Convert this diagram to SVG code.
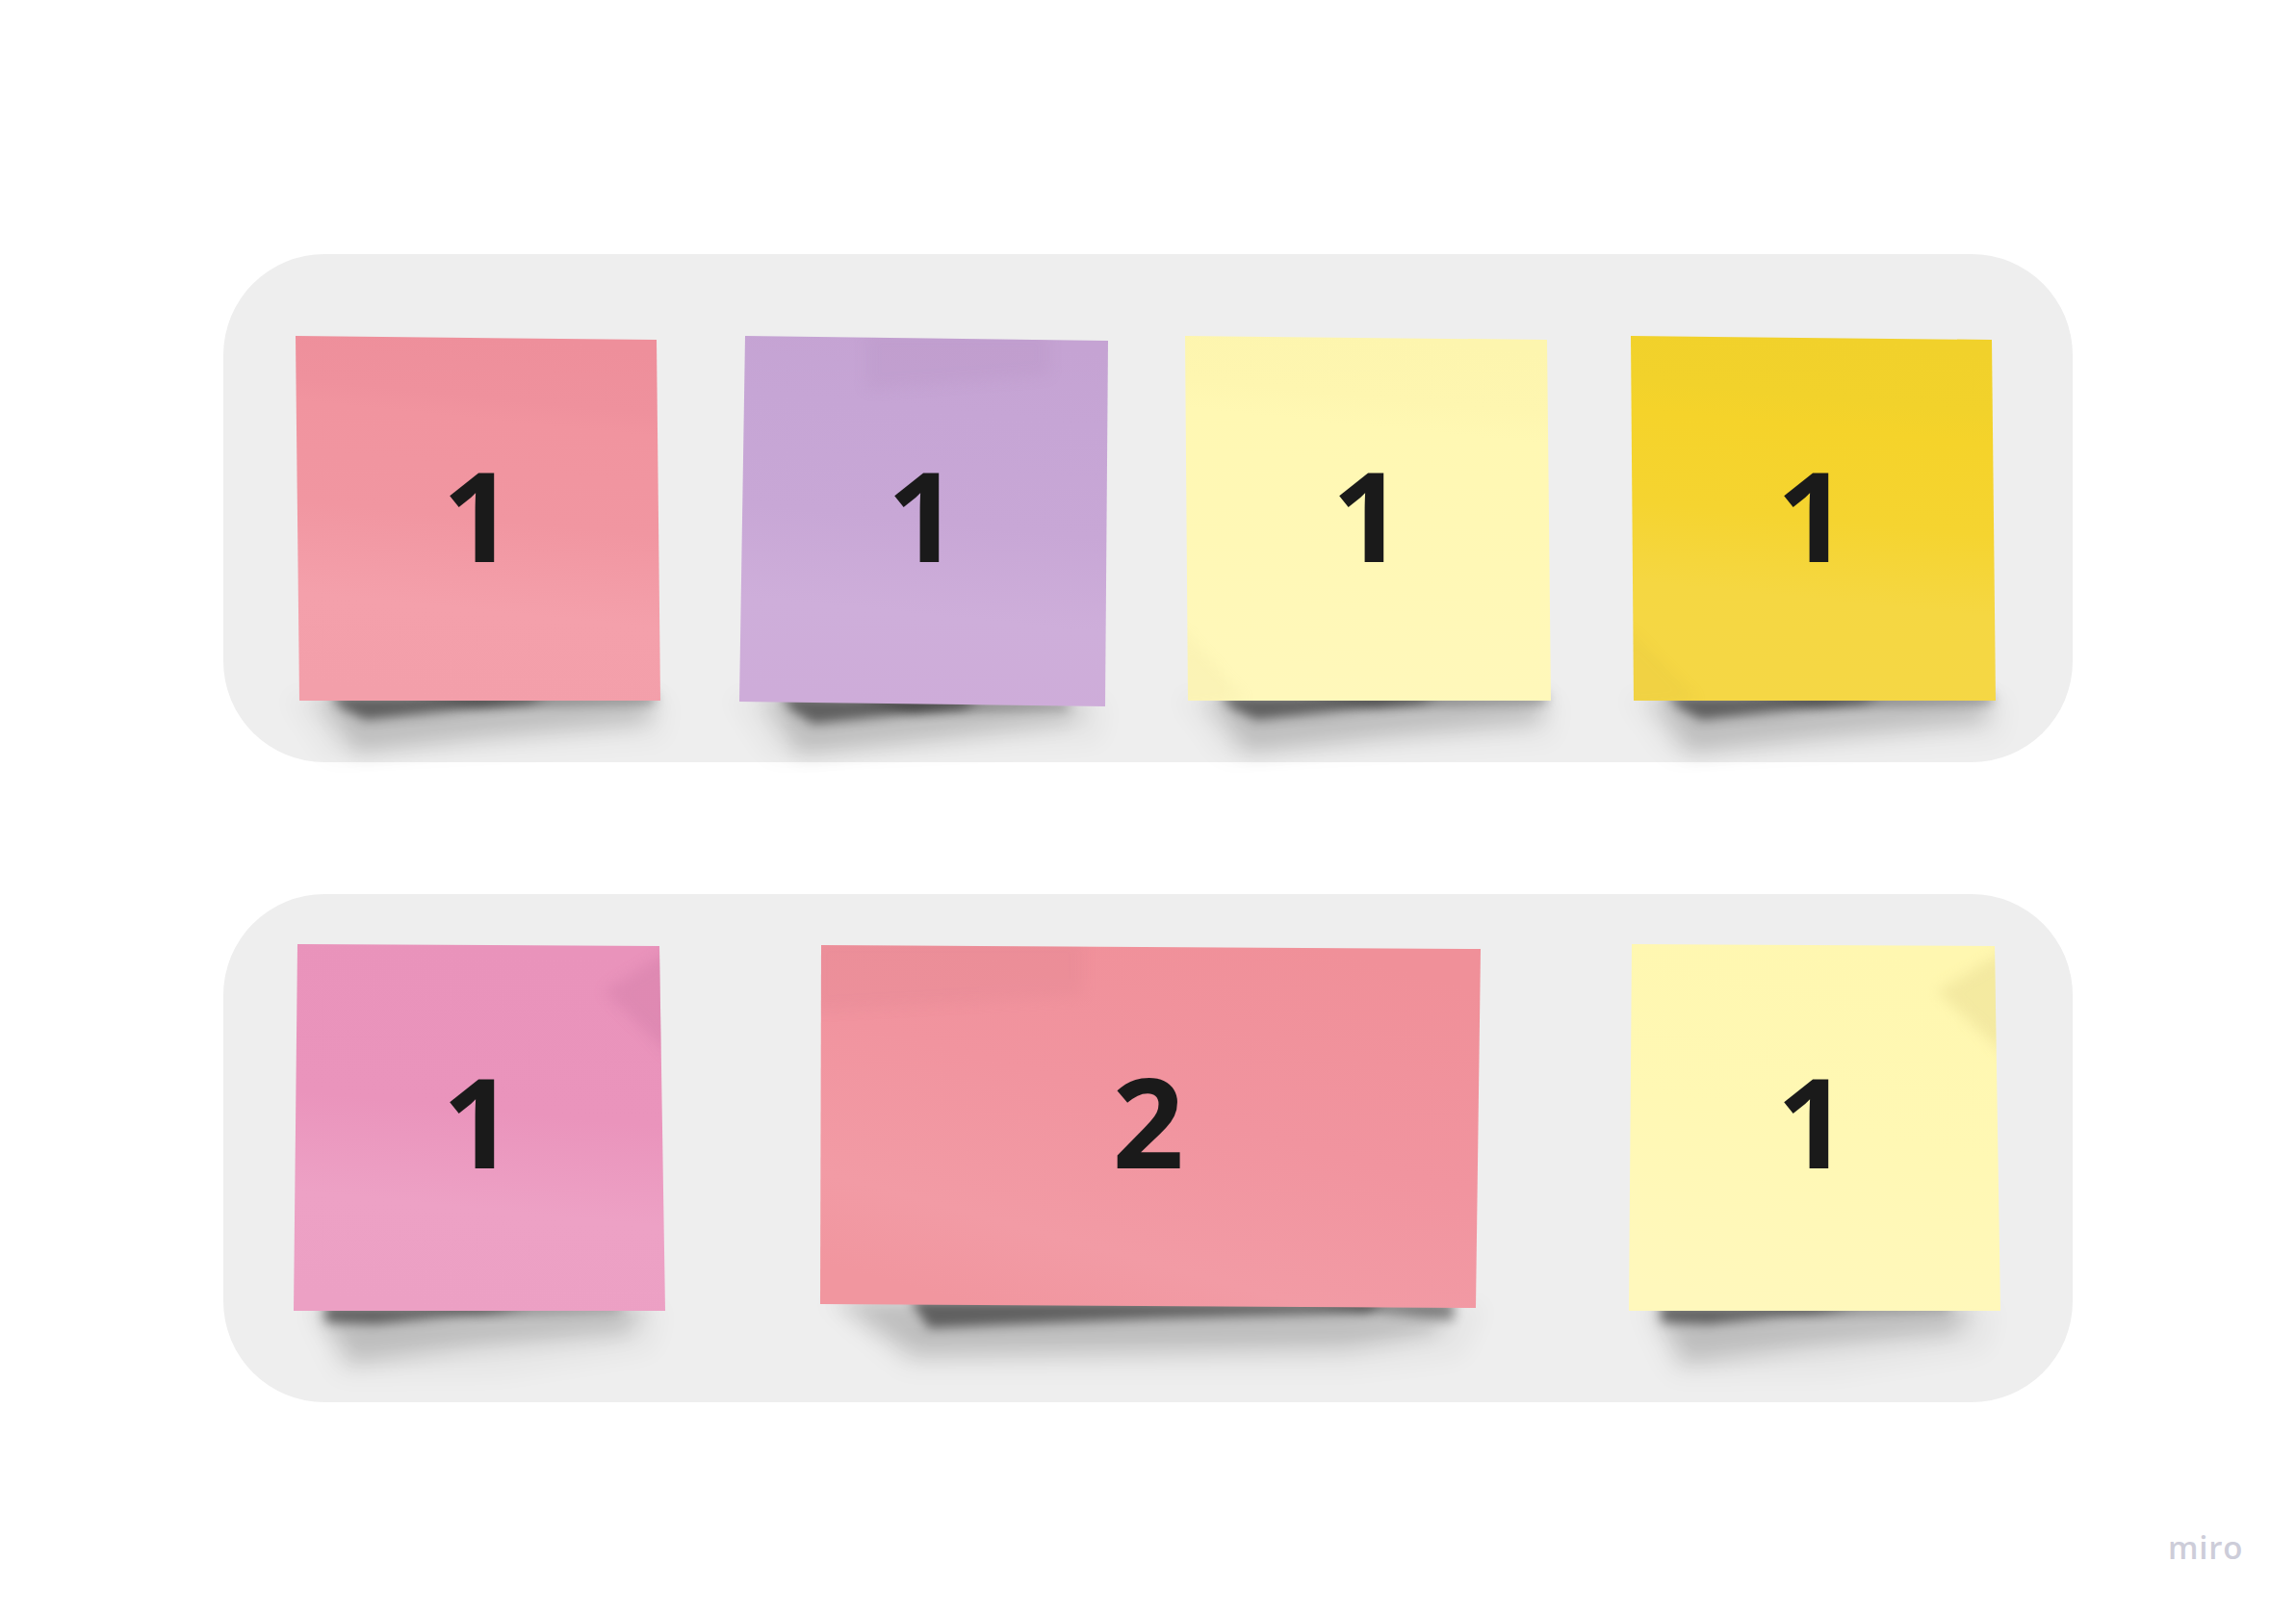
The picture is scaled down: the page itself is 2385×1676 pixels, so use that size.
<svg xmlns="http://www.w3.org/2000/svg" width="2385" height="1676" viewBox="0 0 2385 1676">
<style>
.panel{fill:#eeeeee}
.digit{font-family:"Open Sans","Noto Sans",sans-serif;font-weight:700;font-size:130px;fill:#1a1a1a}
.brand{font-family:"Open Sans","Noto Sans",sans-serif;font-weight:600;font-size:33px;letter-spacing:.8px;fill:#cdcdd9}
.sh-core{fill:#000;opacity:.5;filter:url(#b5)}
.sh-tail{fill:#000;opacity:.38;filter:url(#b5)}
.sh-mid{fill:#000;opacity:.17;filter:url(#b9)}
.sh-soft{fill:#000;opacity:.03;filter:url(#b14)}
.red{fill:url(#gRed)}.purple{fill:url(#gPurple)}.yellow{fill:url(#gYellow)}.gold{fill:url(#gGold)}.pink{fill:url(#gPink)}.wide{fill:url(#gWide)}.pale{fill:url(#gPale)}
</style>
<defs>
<filter id="b5" x="-20%" y="-100%" width="140%" height="300%"><feGaussianBlur stdDeviation="6"/></filter>
<filter id="b9" x="-20%" y="-100%" width="140%" height="300%"><feGaussianBlur stdDeviation="11"/></filter>
<filter id="b14" x="-20%" y="-100%" width="140%" height="300%"><feGaussianBlur stdDeviation="12"/></filter>
<filter id="b3" x="-30%" y="-30%" width="160%" height="160%"><feGaussianBlur stdDeviation="7"/></filter>
<clipPath id="cPink"><polygon points="309,981 685,983 691,1362 305,1362"/></clipPath>
<clipPath id="cPale"><polygon points="1695,981 2072,983 2078,1362 1692,1362"/></clipPath>
<clipPath id="cWide"><polygon points="853,982 1538,986 1533,1359 852,1355"/></clipPath>
<clipPath id="cPurple"><polygon points="774,349 1151,354 1148,734 768,729"/></clipPath>
<clipPath id="cYellow"><polygon points="1231,349 1607,353 1611,728 1234,728"/></clipPath>
<clipPath id="cGold"><polygon points="1694,349 2069,353 2073,728 1697,728"/></clipPath>
<linearGradient id="gRed" x1=".55" y1="0" x2=".45" y2="1"><stop offset="0" stop-color="#ee8f9b"/><stop offset=".17" stop-color="#ef919d"/><stop offset=".23" stop-color="#f1949f"/><stop offset=".5" stop-color="#f196a1"/><stop offset=".75" stop-color="#f4a0ab"/><stop offset="1" stop-color="#f39faa"/></linearGradient>
<linearGradient id="gPurple" x1=".55" y1="0" x2=".45" y2="1"><stop offset="0" stop-color="#c5a3d3"/><stop offset=".2" stop-color="#c6a5d5"/><stop offset=".5" stop-color="#c8a7d6"/><stop offset=".75" stop-color="#ceaeda"/><stop offset="1" stop-color="#ceacd9"/></linearGradient>
<linearGradient id="gYellow" x1=".55" y1="0" x2=".45" y2="1"><stop offset="0" stop-color="#fdf5ae"/><stop offset=".17" stop-color="#fef6b0"/><stop offset=".25" stop-color="#fff8b3"/><stop offset=".6" stop-color="#fff8b6"/><stop offset="1" stop-color="#fff8bb"/></linearGradient>
<linearGradient id="gGold" x1=".55" y1="0" x2=".45" y2="1"><stop offset="0" stop-color="#f1d12b"/><stop offset=".17" stop-color="#f2d22b"/><stop offset=".25" stop-color="#f5d32a"/><stop offset=".5" stop-color="#f5d430"/><stop offset=".72" stop-color="#f5d742"/><stop offset="1" stop-color="#f5d745"/></linearGradient>
<linearGradient id="gPink" x1=".55" y1="0" x2=".45" y2="1"><stop offset="0" stop-color="#e993bb"/><stop offset=".45" stop-color="#ea94bc"/><stop offset=".72" stop-color="#eda1c5"/><stop offset="1" stop-color="#eca0c4"/></linearGradient>
<linearGradient id="gWide" x1=".75" y1="0" x2=".25" y2="1"><stop offset="0" stop-color="#f09099"/><stop offset=".45" stop-color="#f1949f"/><stop offset=".8" stop-color="#f29ba5"/><stop offset="1" stop-color="#f1969f"/></linearGradient>
<linearGradient id="gPale" x1=".6" y1="0" x2=".4" y2="1"><stop offset="0" stop-color="#fff7b0"/><stop offset=".5" stop-color="#fff8b4"/><stop offset="1" stop-color="#fff8bc"/></linearGradient>
</defs>
<rect width="2385" height="1676" fill="#fff"/>
<rect id="panel-top" class="panel" x="232" y="264" width="1921" height="528" rx="105"/>
<rect id="panel-bottom" class="panel" x="232" y="929" width="1921" height="528" rx="105"/>

<g id="note-red">
<polygon class="sh-soft" points="295,722 695,722 690,770 560,778 340,790"/>
<polygon class="sh-mid" points="325,722 682,722 670,750 500,766 370,782"/>
<polygon class="sh-core" points="342,722 570,722 550,730 380,748 355,736"/>
<polygon class="sh-tail" points="420,722 680,722 680,730 500,734"/>
<polygon class="red" points="307,349 682,353 686,728 311,728"/>
<text class="digit" x="459.500" y="584">1</text>
</g>
<g id="note-purple">
<polygon class="sh-soft" points="755,722 1150,725 1145,772 1000,780 800,790"/>
<polygon class="sh-mid" points="790,722 1130,730 1110,750 960,769 830,784"/>
<polygon class="sh-core" points="810,722 1020,726 1000,736 845,752 822,738"/>
<polygon class="sh-tail" points="880,724 1110,730 1110,736 950,740"/>
<polygon class="purple" points="774,349 1151,354 1148,734 768,729"/>
<polygon points="900,345 1090,345 1090,390 900,405" fill="#b48fc0" opacity=".22" filter="url(#b3)" clip-path="url(#cPurple)"/>
<text class="digit" x="921.500" y="584">1</text>
</g>
<g id="note-yellow">
<polygon class="sh-soft" points="1220,722 1620,722 1615,770 1480,778 1270,790"/>
<polygon class="sh-mid" points="1250,722 1608,722 1595,750 1430,766 1295,782"/>
<polygon class="sh-core" points="1266,722 1495,722 1475,730 1305,748 1280,736"/>
<polygon class="sh-tail" points="1345,722 1606,722 1606,730 1430,734"/>
<polygon class="yellow" points="1231,349 1607,353 1611,728 1234,728"/>
<g clip-path="url(#cYellow)"><polygon points="1225,650 1295,728 1225,735" fill="#d8cd8a" opacity=".1" filter="url(#b3)"/></g>
<text class="digit" x="1383.500" y="584">1</text>
</g>
<g id="note-gold">
<polygon class="sh-soft" points="1685,722 2085,722 2080,770 1945,778 1735,790"/>
<polygon class="sh-mid" points="1712,722 2070,722 2058,750 1890,766 1755,782"/>
<polygon class="sh-core" points="1730,722 1955,722 1935,730 1767,748 1745,736"/>
<polygon class="sh-tail" points="1805,722 2069,722 2069,730 1890,734"/>
<polygon class="gold" points="1694,349 2069,353 2073,728 1697,728"/>
<g clip-path="url(#cGold)"><polygon points="1688,650 1765,728 1688,735" fill="#c9a93a" opacity=".1" filter="url(#b3)"/></g>
<text class="digit" x="1845.500" y="584">1</text>
</g>

<g id="note-pink">
<polygon class="sh-soft" points="315,1356 690,1356 680,1405 520,1430 350,1432"/>
<polygon class="sh-mid" points="328,1356 672,1356 650,1385 490,1399 365,1416"/>
<polygon class="sh-core" points="337,1356 550,1356 520,1362 390,1376 338,1374"/>
<polygon class="sh-tail" points="420,1356 650,1356 640,1362 500,1366"/>
<polygon class="pink" points="309,981 685,983 691,1362 305,1362"/>
<g clip-path="url(#cPink)"><polygon points="700,985 628,1030 700,1100" fill="#cf7aa6" opacity=".4" filter="url(#b3)"/></g>
<text class="digit" x="459.500" y="1214">1</text>
</g>
<g id="note-wide">
<polygon class="sh-soft" points="850,1350 1545,1355 1520,1412 1400,1425 940,1425"/>
<polygon class="sh-mid" points="868,1350 1510,1352 1490,1385 1400,1400 950,1408"/>
<polygon class="sh-core" points="945,1350 1440,1352 1420,1364 1200,1370 965,1380"/>
<polygon class="sh-tail" points="1350,1352 1510,1352 1510,1372 1440,1364"/>
<polygon class="wide" points="853,982 1538,986 1533,1359 852,1355"/>
<g clip-path="url(#cWide)"><polygon points="845,975 1125,975 1125,1035 845,1050" fill="#d67e8c" opacity=".18" filter="url(#b3)"/></g>
<text class="digit" x="1155.500" y="1214">2</text>
</g>
<g id="note-pale">
<polygon class="sh-soft" points="1700,1356 2075,1356 2065,1405 1905,1430 1735,1432"/>
<polygon class="sh-mid" points="1718,1356 2050,1356 2030,1385 1880,1399 1750,1416"/>
<polygon class="sh-core" points="1724,1356 1930,1356 1900,1362 1775,1376 1726,1374"/>
<polygon class="sh-tail" points="1800,1356 2030,1356 2020,1362 1880,1366"/>
<polygon class="pale" points="1695,981 2072,983 2078,1362 1692,1362"/>
<g clip-path="url(#cPale)"><polygon points="2088,985 2012,1030 2088,1100" fill="#e6d98f" opacity=".45" filter="url(#b3)"/></g>
<text class="digit" x="1845.500" y="1214">1</text>
</g>
<text id="brand" class="brand" x="2252" y="1620">miro</text>
</svg>
